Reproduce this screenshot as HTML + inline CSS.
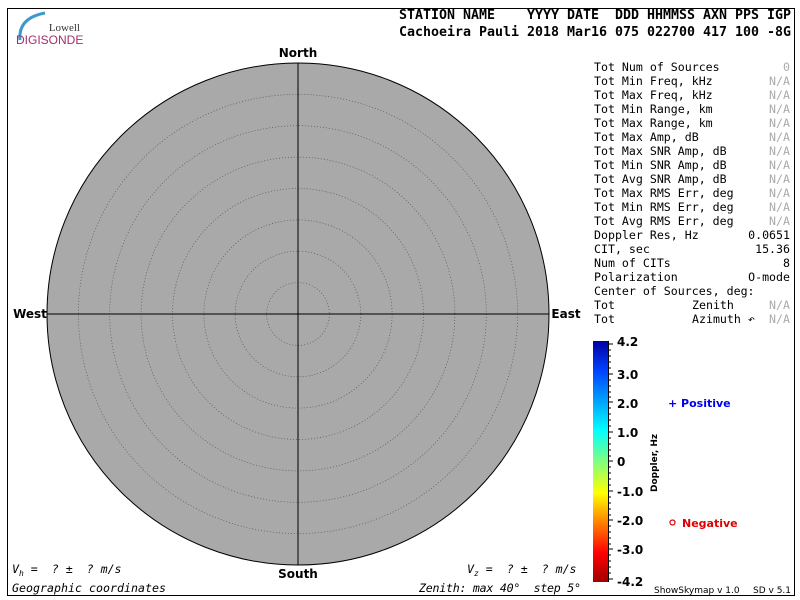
<!DOCTYPE html>
<html><head><style>body{margin:0;background:#fff}svg{display:block}</style></head><body>
<svg width="800" height="600" xmlns="http://www.w3.org/2000/svg">
<defs>
<linearGradient id="jet" x1="0" y1="1" x2="0" y2="0">
<stop offset="0" stop-color="#a00000"/><stop offset="0.12" stop-color="#ff0000"/><stop offset="0.37" stop-color="#ffff00"/><stop offset="0.5" stop-color="#80ff80"/><stop offset="0.63" stop-color="#00ffff"/><stop offset="0.88" stop-color="#0040ff"/><stop offset="1" stop-color="#0000a0"/>
</linearGradient>
</defs>
<rect x="7.5" y="8.5" width="787" height="587" fill="none" stroke="#000"/>
<rect x="8" y="9" width="110" height="38" fill="#fff"/>
<path d="M20 40 Q18 18 45 13" stroke="#3a9ad0" stroke-width="3" fill="none"/>
<text x="80" y="31" font-family="Liberation Serif,serif" font-size="11" text-anchor="end" fill="#333">Lowell</text>
<text x="16" y="44" font-family="Liberation Sans,sans-serif" font-size="12" fill="#a0306a">DIGISONDE</text>
<g font-family="DejaVu Sans Mono,monospace" font-weight="bold" font-size="13">
<text x="399" y="19" textLength="392" lengthAdjust="spacingAndGlyphs" xml:space="preserve">STATION NAME    YYYY DATE  DDD HHMMSS AXN PPS IGP</text>
<text x="399" y="36" textLength="392" lengthAdjust="spacingAndGlyphs">Cachoeira Pauli 2018 Mar16 075 022700 417 100 -8G</text>
</g>
<circle cx="298" cy="314" r="251" fill="#a9a9a9" stroke="#000" stroke-width="1"/>
<g fill="none" stroke="#555" stroke-width="0.7" stroke-dasharray="1,2">
<circle cx="298" cy="314" r="31.4"/><circle cx="298" cy="314" r="62.8"/><circle cx="298" cy="314" r="94.1"/><circle cx="298" cy="314" r="125.5"/><circle cx="298" cy="314" r="156.9"/><circle cx="298" cy="314" r="188.3"/><circle cx="298" cy="314" r="219.6"/>
</g>
<line x1="298" y1="63" x2="298" y2="565" stroke="#000"/>
<line x1="47" y1="314" x2="549" y2="314" stroke="#000"/>
<g font-family="DejaVu Sans,sans-serif" font-weight="bold" font-size="12" text-anchor="middle">
<text x="298" y="57">North</text><text x="298" y="578">South</text>
<text x="30" y="318">West</text><text x="566" y="318">East</text>
</g>
<g font-family="DejaVu Sans Mono,monospace" font-size="11.6" font-style="italic">
<text x="12" y="573" xml:space="preserve">V<tspan font-size="8" dy="3">h</tspan><tspan dy="-3"> =  ? ±  ? m/s</tspan></text>
<text x="467" y="573" xml:space="preserve">V<tspan font-size="8" dy="3">z</tspan><tspan dy="-3"> =  ? ±  ? m/s</tspan></text>
<text x="12" y="592" textLength="154">Geographic coordinates</text>
<text x="419" y="592" xml:space="preserve" textLength="162">Zenith: max 40°  step 5°</text>
</g>
<g font-family="DejaVu Sans Mono,monospace" font-size="11.6">
<text x="594" y="71">Tot Num of Sources</text><text x="790" y="71" text-anchor="end" fill="#aaa">0</text>
<text x="594" y="85">Tot Min Freq, kHz</text><text x="790" y="85" text-anchor="end" fill="#aaa">N/A</text>
<text x="594" y="99">Tot Max Freq, kHz</text><text x="790" y="99" text-anchor="end" fill="#aaa">N/A</text>
<text x="594" y="113">Tot Min Range, km</text><text x="790" y="113" text-anchor="end" fill="#aaa">N/A</text>
<text x="594" y="127">Tot Max Range, km</text><text x="790" y="127" text-anchor="end" fill="#aaa">N/A</text>
<text x="594" y="141">Tot Max Amp, dB</text><text x="790" y="141" text-anchor="end" fill="#aaa">N/A</text>
<text x="594" y="155">Tot Max SNR Amp, dB</text><text x="790" y="155" text-anchor="end" fill="#aaa">N/A</text>
<text x="594" y="169">Tot Min SNR Amp, dB</text><text x="790" y="169" text-anchor="end" fill="#aaa">N/A</text>
<text x="594" y="183">Tot Avg SNR Amp, dB</text><text x="790" y="183" text-anchor="end" fill="#aaa">N/A</text>
<text x="594" y="197">Tot Max RMS Err, deg</text><text x="790" y="197" text-anchor="end" fill="#aaa">N/A</text>
<text x="594" y="211">Tot Min RMS Err, deg</text><text x="790" y="211" text-anchor="end" fill="#aaa">N/A</text>
<text x="594" y="225">Tot Avg RMS Err, deg</text><text x="790" y="225" text-anchor="end" fill="#aaa">N/A</text>
<text x="594" y="239">Doppler Res, Hz</text><text x="790" y="239" text-anchor="end">0.0651</text>
<text x="594" y="253">CIT, sec</text><text x="790" y="253" text-anchor="end">15.36</text>
<text x="594" y="267">Num of CITs</text><text x="790" y="267" text-anchor="end">8</text>
<text x="594" y="281">Polarization</text><text x="790" y="281" text-anchor="end">O-mode</text>
<text x="594" y="295">Center of Sources, deg:</text>
<text x="594" y="309">Tot</text><text x="692" y="309">Zenith</text><text x="790" y="309" text-anchor="end" fill="#aaa">N/A</text>
<text x="594" y="323">Tot</text><text x="692" y="323">Azimuth ↶</text><text x="790" y="323" text-anchor="end" fill="#aaa">N/A</text>
</g>
<rect x="593" y="341" width="15" height="241" fill="url(#jet)"/>
<g stroke="#000" stroke-width="1">
<line x1="608.5" y1="341" x2="608.5" y2="582"/>
<path d="M608 344h5M608 350h3M608 356h3M608 362h3M608 368h3M608 374h5M608 380h3M608 386h3M608 392h3M608 397h3M608 402h5M608 408h3M608 414h3M608 420h3M608 426h3M608 432h5M608 438h3M608 444h3M608 450h3M608 456h3M608 461h5M608 467h3M608 473h3M608 479h3M608 485h3M608 491h5M608 497h3M608 503h3M608 509h3M608 515h3M608 520h5M608 526h3M608 532h3M608 538h3M608 544h3M608 549h5M608 555h3M608 561h3M608 567h3M608 573h3M608 579h5"/>
</g>
<g font-family="DejaVu Sans,sans-serif" font-weight="bold" font-size="12">
<text x="617" y="346">4.2</text><text x="617" y="379">3.0</text><text x="617" y="408">2.0</text><text x="617" y="437">1.0</text><text x="617" y="466">0</text><text x="617" y="496">-1.0</text><text x="617" y="525">-2.0</text><text x="617" y="554">-3.0</text><text x="617" y="586">-4.2</text>
</g>
<text transform="translate(657,492) rotate(-90)" font-family="DejaVu Sans,sans-serif" font-weight="bold" font-size="9">Doppler, Hz</text>
<g font-family="DejaVu Sans,sans-serif" font-weight="bold" font-size="11">
<text x="668" y="407" fill="#0000ee">+ Positive</text>
<circle cx="672.5" cy="522.5" r="2.5" fill="none" stroke="#e00000" stroke-width="1.2"/>
<text x="682" y="527" fill="#e00000">Negative</text>
</g>
<g font-family="DejaVu Sans,sans-serif" font-size="9">
<text x="654" y="593">ShowSkymap v 1.0</text><text x="753" y="593">SD v 5.1</text>
</g>
</svg>
</body></html>
